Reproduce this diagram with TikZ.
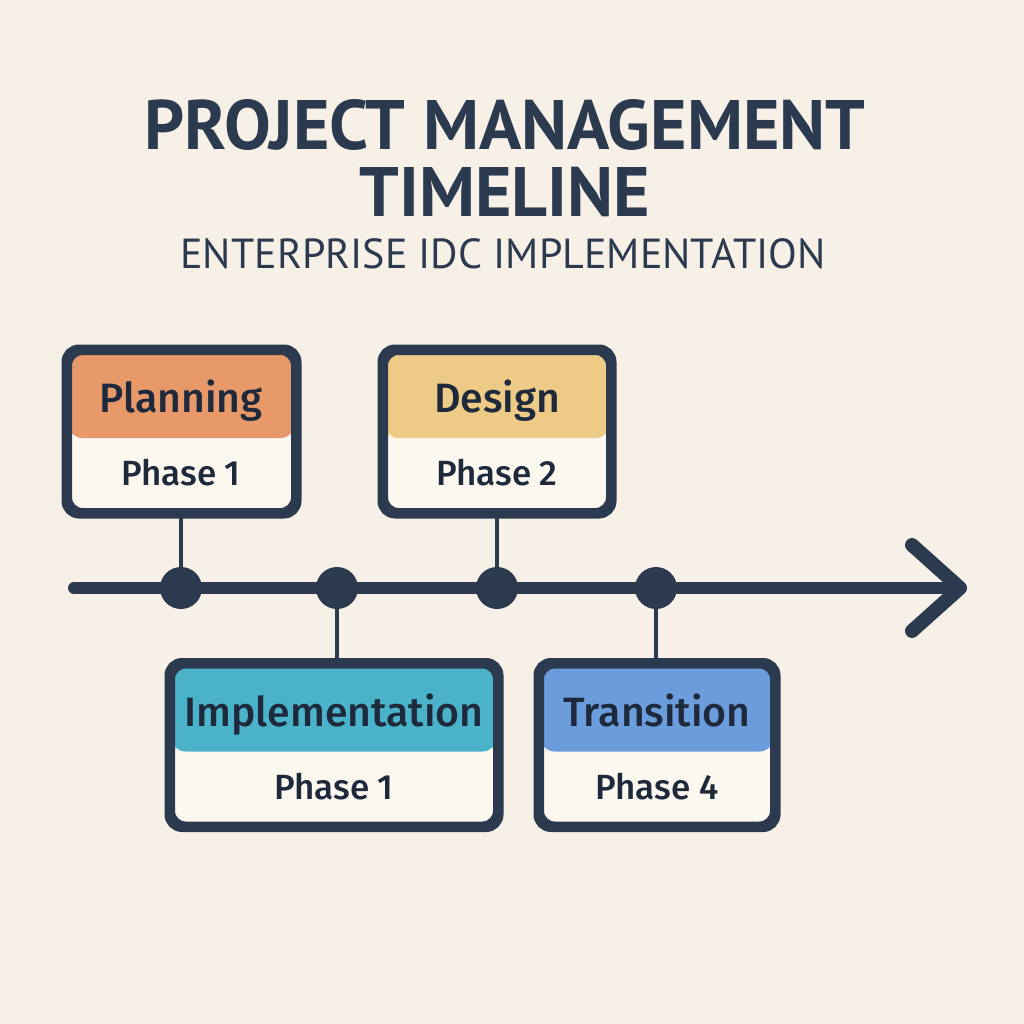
\documentclass[tikz,border=0pt]{standalone}
\usepackage{fontspec}
\setmainfont{Fira Sans}[UprightFont={* Medium}]
\newfontfamily\titlefont{PT Sans}[BoldFont={PT Sans Bold}]
\usetikzlibrary{calc}
\definecolor{bgc}{HTML}{F7F0E6}
\definecolor{bodyc}{HTML}{FCF7EF}
\definecolor{ink}{HTML}{2B3A4F}
\definecolor{txt}{HTML}{1E2A3C}
\definecolor{hplan}{HTML}{E8996A}
\definecolor{hdes}{HTML}{EDCB87}
\definecolor{himp}{HTML}{4BB3C9}
\definecolor{htra}{HTML}{6B9DDC}
\tikzset{
  phasebox/.style={draw=ink, line width=7pt, rounded corners=14pt, fill=bodyc,
    minimum height=160pt, inner sep=0pt},
  hdr/.style={path picture={\fill[#1] (path picture bounding box.north west) rectangle ([yshift=-86.5pt]path picture bounding box.north east);}},
  boxtitle/.style={font=\fontsize{41}{45}\selectfont, text=txt, anchor=base},
  boxphase/.style={font=\fontsize{35}{39}\selectfont, text=txt, anchor=base},
  dot/.style={circle, fill=ink, minimum size=42pt, inner sep=0pt},
  stem/.style={draw=ink, line width=4pt},
  axis/.style={draw=ink, line width=12pt, line cap=round},
  chev/.style={draw=ink, line width=14pt, line cap=round, line join=round},
}
\begin{document}
\begin{tikzpicture}[x=1pt,y=-1pt]
\fill[bgc] (0,0) rectangle (1024,1024);
\useasboundingbox (0,0) rectangle (1024,1024);
% titles
\node[font=\titlefont\bfseries\fontsize{70}{76}\selectfont, text=ink, anchor=base] (t1) at (505,150) {PROJECT MANAGEMENT};
\node[font=\titlefont\bfseries\fontsize{70}{76}\selectfont, text=ink, anchor=base] (t2) at (505,217) {TIMELINE};
\node[font=\titlefont\fontsize{42}{46}\selectfont, text=ink, anchor=base] (t3) at (503,268) {ENTERPRISE IDC IMPLEMENTATION};
% axis
\coordinate (a0) at (74,588);
\coordinate (tip) at (960,588);
\draw[axis] (a0) -- ($(tip)+(-6,0)$);
\draw[chev] ($(tip)+(-48,-43)$) -- (tip) -- ($(tip)+(-48,43)$);
% dots
\node[dot] (d1) at (181,588) {};
\node[dot] (d2) at (337,588) {};
\node[dot] (d3) at (497,588) {};
\node[dot] (d4) at (656,588) {};
% boxes
\node[phasebox, hdr=hplan, minimum width=226pt] (b1) at (181.5,431.5) {};
\node[phasebox, hdr=hdes, minimum width=225pt] (b2) at (497,431.5) {};
\node[phasebox, hdr=himp, minimum width=325pt] (b3) at (334,745) {};
\node[phasebox, hdr=htra, minimum width=233pt] (b4) at (657,745) {};
% redraw borders on top of header fills
\foreach \b in {b1,b2,b3,b4}{
  \draw[ink, line width=7pt, rounded corners=14pt] (\b.north west) rectangle (\b.south east);
}
% labels
\node[boxtitle] (l1) at (181,412) {Planning};
\node[boxphase] (p1) at (181,485) {Phase 1};
\node[boxtitle] (l2) at (497,412) {Design};
\node[boxphase] (p2) at (497,485) {Phase 2};
\node[boxtitle] (l3) at (334,726) {Implementation};
\node[boxphase] (p3) at (334,799) {Phase 1};
\node[boxtitle] (l4) at (657,726) {Transition};
\node[boxphase] (p4) at (657,799) {Phase 4};
% stems
\draw[stem] (d1 |- b1.south) -- (d1);
\draw[stem] (d3 |- b2.south) -- (d3);
\draw[stem] (d2) -- (d2 |- b3.north);
\draw[stem] (d4) -- (d4 |- b4.north);
\end{tikzpicture}
\end{document}
